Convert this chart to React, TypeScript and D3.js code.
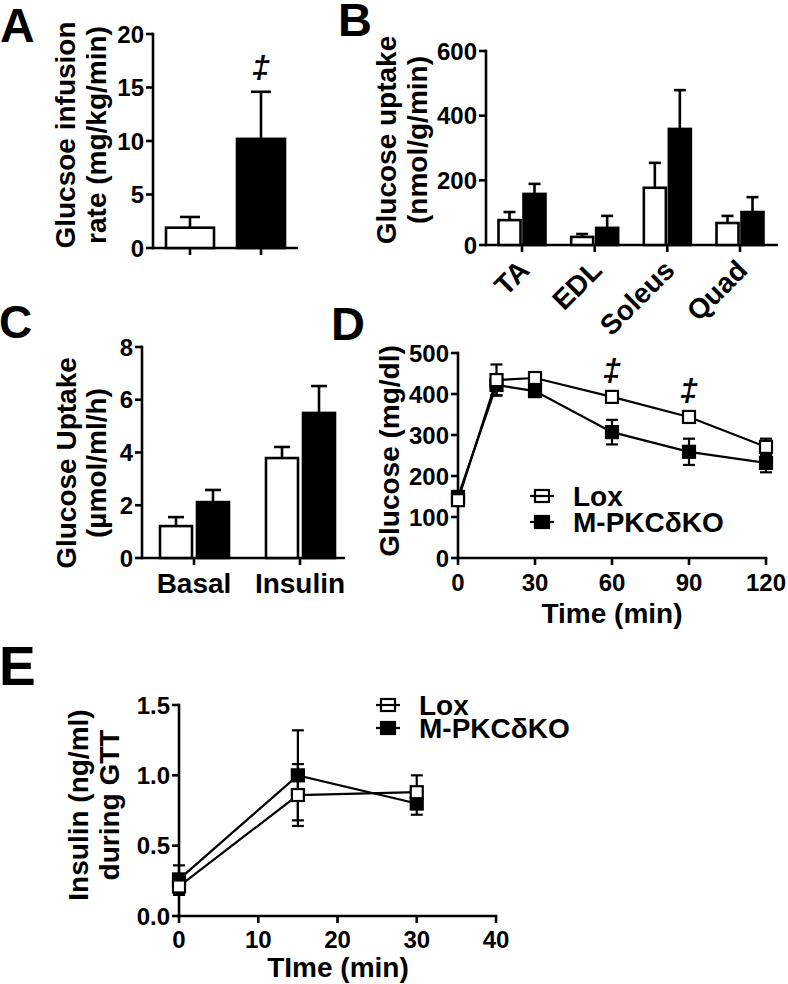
import React from 'react';
import * as d3 from 'd3';

const FONT = '"Liberation Sans", Arial, Helvetica, sans-serif';

// ---------- Panel A ----------
const aGroups = ['Lox', 'M-PKCδKO'];
const aMeans = [1.9, 10.2];
const aErrs = [1.0, 4.4];
const aTicks = [0, 5, 10, 15, 20];

// ---------- Panel B ----------
const bCats = ['TA', 'EDL', 'Soleus', 'Quad'];
const bLox = [77, 25, 177, 68];
const bLoxErr = [25, 9, 77, 22];
const bKO = [158, 53, 359, 102];
const bKOErr = [31, 37, 120, 46];
const bTicks = [0, 200, 400, 600];

// ---------- Panel C ----------
const cCats = ['Basal', 'Insulin'];
const cLox = [1.21, 3.79];
const cLoxErr = [0.34, 0.42];
const cKO = [2.12, 5.5];
const cKOErr = [0.46, 1.02];
const cTicks = [0, 2, 4, 6, 8];

// ---------- Panel D ----------
const dTimes = [0, 15, 30, 60, 90, 120];
const dLox = [141, 434, 439, 393, 344, 271];
const dLoxErr = [10, 38, 10, 10, 10, 20];
const dKO = [149, 422, 407, 307, 259, 232];
const dKOErr = [10, 25, 10, 30, 32, 23];
const dSig = [60, 90];
const dYTicks = [0, 100, 200, 300, 400, 500];
const dXTicks = [0, 30, 60, 90, 120];

// ---------- Panel E ----------
const eTimes = [0, 15, 30];
const eLox = [0.21, 0.86, 0.88];
const eLoxErr = [0.06, 0.22, 0.12];
const eKO = [0.26, 1.0, 0.8];
const eKOErr = [0.1, 0.32, 0.08];
const eYTicks = [0, 0.5, 1.0, 1.5];
const eXTicks = [0, 10, 20, 30, 40];

const legendNames = ['Lox', 'M-PKCδKO'];

const SW = 2.6;

function YAxis({ scale, x, ticks, fmt }: any) {
  const [d0, d1] = scale.domain();
  return (
    <g>
      <line x1={x} x2={x} y1={scale(d0)} y2={scale(d1)} stroke="#000" strokeWidth={SW} strokeLinecap="square" />
      {ticks.map((t: number, i: number) => (
        <g key={i}>
          <line x1={x - 7} x2={x} y1={scale(t)} y2={scale(t)} stroke="#000" strokeWidth={SW} />
          <text x={x - 9} y={scale(t)} dy="0.36em" textAnchor="end" fontSize={24} fontWeight="bold">
            {fmt ? fmt(t) : t}
          </text>
        </g>
      ))}
    </g>
  );
}

function YTitle({ lines, xs, cy }: any) {
  return (
    <g>
      {lines.map((l: string, i: number) => (
        <text key={i} transform={`translate(${xs[i]},${cy}) rotate(-90)`} textAnchor="middle" fontSize={28} fontWeight="bold">
          {l}
        </text>
      ))}
    </g>
  );
}

function ErrUp({ x, yTop, yBar, cap }: any) {
  return (
    <g stroke="#000" strokeWidth={SW}>
      <line x1={x} x2={x} y1={yBar} y2={yTop} />
      <line x1={x - cap} x2={x + cap} y1={yTop} y2={yTop} />
    </g>
  );
}

function Marker({ x, y, filled, s = 12 }: any) {
  return (
    <rect x={x - s / 2} y={y - s / 2} width={s} height={s} fill={filled ? '#000' : '#fff'} stroke="#000" strokeWidth={2.2} />
  );
}

function PanelA() {
  const y = d3.scaleLinear().domain([0, 20]).range([248, 34]);
  const x = d3.scalePoint().domain(aGroups).range([190, 261]);
  const bw = 48;
  return (
    <g>
      <text x={0} y={42} fontSize={48} fontWeight="bold">A</text>
      <YTitle lines={['Glucsoe infusion', 'rate (mg/kg/min)']} xs={[75, 106]} cy={135} />
      <YAxis scale={y} x={153} ticks={aTicks} />
      <line x1={153} x2={298} y1={y(0)} y2={y(0)} stroke="#000" strokeWidth={SW} />
      {aGroups.map((g, i) => {
        const cx = x(g)!;
        return (
          <g key={g}>
            <line x1={cx} x2={cx} y1={y(0)} y2={y(0) + 7} stroke="#000" strokeWidth={SW} />
            <ErrUp x={cx} yBar={y(aMeans[i])} yTop={y(aMeans[i] + aErrs[i])} cap={10} />
            <rect x={cx - bw / 2} y={y(aMeans[i])} width={bw} height={y(0) - y(aMeans[i])}
              fill={i === 0 ? '#fff' : '#000'} stroke="#000" strokeWidth={SW} />
          </g>
        );
      })}
      <text x={x(aGroups[1])!} y={y(aMeans[1] + aErrs[1]) - 14} textAnchor="middle" fontSize={32} fontStyle="italic" fontWeight="bold">‡</text>
    </g>
  );
}

function PanelB() {
  const y = d3.scaleLinear().domain([0, 600]).range([245, 51]);
  const x = d3.scalePoint().domain(bCats).range([522, 740]);
  const bw = 22;
  return (
    <g>
      <text x={338} y={36} fontSize={47} fontWeight="bold">B</text>
      <YTitle lines={['Glucose uptake', '(nmol/g/min)']} xs={[396, 427]} cy={140} />
      <YAxis scale={y} x={486} ticks={bTicks} />
      <line x1={486} x2={778} y1={y(0)} y2={y(0)} stroke="#000" strokeWidth={SW} />
      {bCats.map((c, i) => {
        const cx = x(c)!;
        const xl = cx - 1.5 - bw / 2;
        const xk = cx + 1.5 + bw / 2;
        return (
          <g key={c}>
            <line x1={cx} x2={cx} y1={y(0)} y2={y(0) + 7} stroke="#000" strokeWidth={SW} />
            <ErrUp x={xl} yBar={y(bLox[i])} yTop={y(bLox[i] + bLoxErr[i])} cap={6} />
            <ErrUp x={xk} yBar={y(bKO[i])} yTop={y(bKO[i] + bKOErr[i])} cap={6} />
            <rect x={xl - bw / 2} y={y(bLox[i])} width={bw} height={y(0) - y(bLox[i])} fill="#fff" stroke="#000" strokeWidth={SW} />
            <rect x={xk - bw / 2} y={y(bKO[i])} width={bw} height={y(0) - y(bKO[i])} fill="#000" stroke="#000" strokeWidth={SW} />
            <text transform={`translate(${cx + 9},${272}) rotate(-45)`} textAnchor="end" fontSize={28} fontWeight="bold">{c}</text>
          </g>
        );
      })}
    </g>
  );
}

function PanelC() {
  const y = d3.scaleLinear().domain([0, 8]).range([558, 347]);
  const x = d3.scalePoint().domain(cCats).range([194, 300]);
  const bw = 32;
  return (
    <g>
      <text x={-1} y={338} fontSize={46} fontWeight="bold">C</text>
      <YTitle lines={['Glucose Uptake', '(µmol/ml/h)']} xs={[76, 106]} cy={463} />
      <YAxis scale={y} x={142} ticks={cTicks} />
      <line x1={142} x2={345} y1={y(0)} y2={y(0)} stroke="#000" strokeWidth={SW} />
      {cCats.map((c, i) => {
        const cx = x(c)!;
        const xl = cx - 2 - bw / 2;
        const xk = cx + 3 + bw / 2;
        return (
          <g key={c}>
            <line x1={cx} x2={cx} y1={y(0)} y2={y(0) + 7} stroke="#000" strokeWidth={SW} />
            <ErrUp x={xl} yBar={y(cLox[i])} yTop={y(cLox[i] + cLoxErr[i])} cap={8} />
            <ErrUp x={xk} yBar={y(cKO[i])} yTop={y(cKO[i] + cKOErr[i])} cap={8} />
            <rect x={xl - bw / 2} y={y(cLox[i])} width={bw} height={y(0) - y(cLox[i])} fill="#fff" stroke="#000" strokeWidth={SW} />
            <rect x={xk - bw / 2} y={y(cKO[i])} width={bw} height={y(0) - y(cKO[i])} fill="#000" stroke="#000" strokeWidth={SW} />
            <text x={cx} y={593} textAnchor="middle" fontSize={28} fontWeight="bold">{c}</text>
          </g>
        );
      })}
    </g>
  );
}

function ErrBoth({ x, y, v, e, cap = 6 }: any) {
  const yt = y(v + e), yb = y(v - e);
  return (
    <g stroke="#000" strokeWidth={2.2}>
      <line x1={x} x2={x} y1={yt} y2={yb} />
      <line x1={x - cap} x2={x + cap} y1={yt} y2={yt} />
      <line x1={x - cap} x2={x + cap} y1={yb} y2={yb} />
    </g>
  );
}

function Legend({ x, y1, y2 }: any) {
  return (
    <g>
      {[y1, y2].map((yy: number, i: number) => (
        <g key={i}>
          <line x1={x - 12} x2={x + 12} y1={yy} y2={yy} stroke="#000" strokeWidth={2.2} />
          <rect x={x - 7} y={yy - 6} width={14} height={12} fill={i === 1 ? '#000' : 'none'} stroke="#000" strokeWidth={2.2} />
          <text x={x + 31} y={yy} dy="0.36em" fontSize={28} fontWeight="bold">{legendNames[i]}</text>
        </g>
      ))}
    </g>
  );
}

function LinePanel({ xs, yScale, xScale, lox, loxErr, ko, koErr }: any) {
  const line = d3.line<number>().x((_, i) => xScale(xs[i])).y((d) => yScale(d));
  return (
    <g>
      <path d={line(lox) || ''} fill="none" stroke="#000" strokeWidth={2.2} />
      <path d={line(ko) || ''} fill="none" stroke="#000" strokeWidth={2.2} />
      {xs.map((t: number, i: number) => (
        <g key={'e' + i}>
          <ErrBoth x={xScale(t)} y={yScale} v={lox[i]} e={loxErr[i]} />
          <ErrBoth x={xScale(t)} y={yScale} v={ko[i]} e={koErr[i]} />
        </g>
      ))}
      {xs.map((t: number, i: number) => (
        <Marker key={'k' + i} x={xScale(t)} y={yScale(ko[i])} filled />
      ))}
      {xs.map((t: number, i: number) => (
        <Marker key={'l' + i} x={xScale(t)} y={yScale(lox[i])} filled={false} />
      ))}
    </g>
  );
}

function XAxis({ scale, y, ticks, labelY }: any) {
  const [d0, d1] = scale.domain();
  return (
    <g>
      <line x1={scale(d0)} x2={scale(d1)} y1={y} y2={y} stroke="#000" strokeWidth={SW} strokeLinecap="square" />
      {ticks.map((t: number, i: number) => (
        <g key={i}>
          <line x1={scale(t)} x2={scale(t)} y1={y} y2={y + 7} stroke="#000" strokeWidth={SW} />
          <text x={scale(t)} y={labelY} textAnchor="middle" fontSize={24} fontWeight="bold">{t}</text>
        </g>
      ))}
    </g>
  );
}

function PanelD() {
  const y = d3.scaleLinear().domain([0, 500]).range([558, 353]);
  const x = d3.scaleLinear().domain([0, 120]).range([458, 766]);
  return (
    <g>
      <text x={331} y={340} fontSize={47} fontWeight="bold">D</text>
      <YTitle lines={['Glucose (mg/dl)']} xs={[399]} cy={451} />
      <YAxis scale={y} x={458} ticks={dYTicks} />
      <XAxis scale={x} y={558} ticks={dXTicks} labelY={591} />
      <text x={612} y={623} textAnchor="middle" fontSize={28} fontWeight="bold">Time (min)</text>
      <LinePanel xs={dTimes} xScale={x} yScale={y} lox={dLox} loxErr={dLoxErr} ko={dKO} koErr={dKOErr} />
      {dSig.map((t) => {
        const i = dTimes.indexOf(t);
        return (
          <text key={t} x={x(t)} y={y(dLox[i]) - 16} textAnchor="middle" fontSize={32} fontStyle="italic" fontWeight="bold">‡</text>
        );
      })}
      <Legend x={542} y1={496} y2={522} />
    </g>
  );
}

function PanelE() {
  const y = d3.scaleLinear().domain([0, 1.5]).range([916, 705]);
  const x = d3.scaleLinear().domain([0, 40]).range([179, 496]);
  const fmt = d3.format('.1f');
  return (
    <g>
      <text x={-1} y={685} fontSize={55} fontWeight="bold">E</text>
      <YTitle lines={['Insulin (ng/ml)', 'during GTT']} xs={[88, 119]} cy={805} />
      <YAxis scale={y} x={179} ticks={eYTicks} fmt={fmt} />
      <XAxis scale={x} y={916} ticks={eXTicks} labelY={948} />
      <text x={338} y={977} textAnchor="middle" fontSize={28} fontWeight="bold">TIme (min)</text>
      <LinePanel xs={eTimes} xScale={x} yScale={y} lox={eLox} loxErr={eLoxErr} ko={eKO} koErr={eKOErr} />
      <Legend x={388} y1={705} y2={728} />
    </g>
  );
}

export default function App() {
  return (
    <svg width={788} height={984} style={{ position: 'absolute', left: 0, top: 0, background: '#fff' }}
      fontFamily={FONT}>
      <rect x={0} y={0} width={788} height={984} fill="#fff" />
      <PanelA />
      <PanelB />
      <PanelC />
      <PanelD />
      <PanelE />
    </svg>
  );
}
